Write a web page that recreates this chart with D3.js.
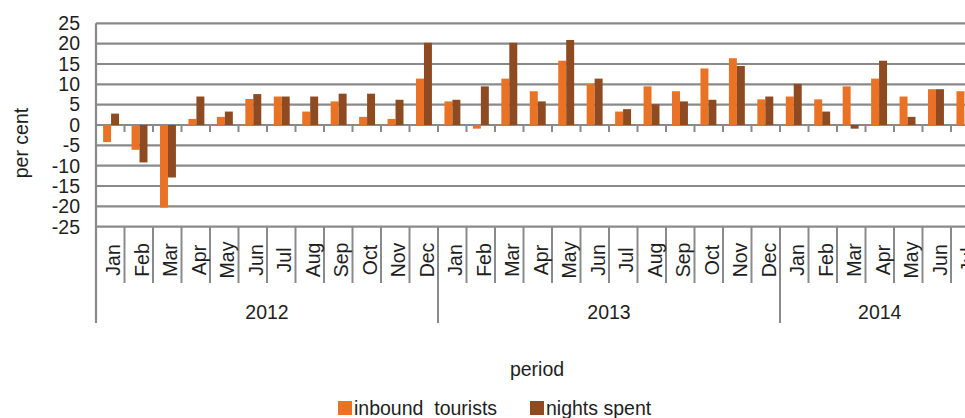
<!DOCTYPE html>
<html>
<head>
<meta charset="utf-8">
<script src="https://cdn.jsdelivr.net/npm/d3@7"></script>
<style>
    body { margin: 0; background: #fff; }
    svg { display: block; font-family: "Liberation Sans", Arial, sans-serif; }
    text { fill: #1e1e1e; }
</style>
</head>
<body>
<div class="chart"></div>
<script>
// month labels, year groups and the two series (per cent change)
var months = ["Jan", "Feb", "Mar", "Apr", "May", "Jun", "Jul", "Aug", "Sep", "Oct", "Nov", "Dec",
              "Jan", "Feb", "Mar", "Apr", "May", "Jun", "Jul", "Aug", "Sep", "Oct", "Nov", "Dec",
              "Jan", "Feb", "Mar", "Apr", "May", "Jun", "Jul"];
var years = ["2012", "2013", "2014"];
var yearLengths = [12, 12, 7];

var inbound = [-4.2, -6.1, -20.3, 1.5, 2.0, 6.4, 7.0, 3.3, 5.8, 2.0, 1.5, 11.4,
               5.8, -0.9, 11.4, 8.3, 15.8, 10.1, 3.3, 9.5, 8.3, 13.9, 16.4, 6.3,
               7.0, 6.3, 9.5, 11.4, 7.0, 8.8, 8.3];
var nights = [2.8, -9.2, -12.9, 7.0, 3.3, 7.6, 7.0, 7.0, 7.7, 7.7, 6.2, 20.2,
              6.2, 9.5, 20.2, 5.8, 20.9, 11.4, 3.9, 5.1, 5.8, 6.2, 14.5, 7.0,
              10.1, 3.3, -0.9, 15.8, 2.0, 8.8, null];

var yTicks = [25, 20, 15, 10, 5, 0, -5, -10, -15, -20, -25];
var seriesNames = ["inbound  tourists", "nights spent"];
var colors = ["#e97224", "#8e4a21"];

function chart() {
    var width = 965, height = 418;
    var left = 96, right = 979.5;
    var fontSize = "19.5px";

    var svg = d3.select(".chart").append("svg")
            .attr("width", width)
            .attr("height", height);

    var idx = d3.range(months.length);

    var xCat = d3.scaleBand()
                .domain(idx)
                .range([left, right]);

    var x0 = d3.scaleBand()
                .domain(idx)
                .range([left, right])
                .paddingInner(0.44)
                .paddingOuter(0.25);

    var x1 = d3.scaleBand()
                .domain([0, 1])
                .range([0, x0.bandwidth()]);

    var y = d3.scaleLinear()
                .domain([-25, 25])
                .range([226.7, 23.3]);

    // grid lines
    svg.append("g").selectAll("line")
        .data(yTicks)
        .enter().append("line")
            .attr("x1", left)
            .attr("x2", width)
            .attr("y1", function (d) { return y(d); })
            .attr("y2", function (d) { return y(d); })
            .attr("stroke", "#8a8a8a")
            .attr("stroke-width", 2.2);

    // y axis labels
    svg.append("g").selectAll("text")
        .data(yTicks)
        .enter().append("text")
            .attr("x", 80)
            .attr("y", function (d) { return y(d); })
            .attr("dy", "0.35em")
            .attr("text-anchor", "end")
            .style("font-size", fontSize)
            .text(function (d) { return d; });

    // bars
    var series = [inbound, nights];
    var groups = svg.append("g").selectAll("g")
        .data(series)
        .enter().append("g")
            .attr("fill", function (d, i) { return colors[i]; });

    groups.each(function (vals, s) {
        d3.select(this).selectAll("rect")
            .data(idx.filter(function (i) { return vals[i] != null; }))
            .enter().append("rect")
                .attr("x", function (i) { return x0(i) + x1(s); })
                .attr("width", x1.bandwidth())
                .attr("y", function (i) { return y(Math.max(0, vals[i])); })
                .attr("height", function (i) { return Math.abs(y(vals[i]) - y(0)); });
    });

    // ticks on the zero line
    svg.append("g").selectAll("line")
        .data(idx)
        .enter().append("line")
            .attr("x1", function (i) { return xCat(i); })
            .attr("x2", function (i) { return xCat(i); })
            .attr("y1", y(0))
            .attr("y2", y(0) + 7)
            .attr("stroke", "#8a8a8a")
            .attr("stroke-width", 2);

    // left axis line
    svg.append("line")
        .attr("x1", left).attr("x2", left)
        .attr("y1", y(25)).attr("y2", 323)
        .attr("stroke", "#8a8a8a")
        .attr("stroke-width", 2.2);

    // category dividers under the plot
    var yearStarts = [0];
    yearLengths.forEach(function (n, i) { yearStarts.push(yearStarts[i] + n); });

    svg.append("g").selectAll("line")
        .data(idx.slice(1))
        .enter().append("line")
            .attr("x1", function (i) { return xCat(i); })
            .attr("x2", function (i) { return xCat(i); })
            .attr("y1", y(-25))
            .attr("y2", function (i) { return yearStarts.indexOf(i) >= 0 ? 323 : 283; })
            .attr("stroke", "#8a8a8a")
            .attr("stroke-width", 2);

    // month labels
    svg.append("g").selectAll("text")
        .data(idx)
        .enter().append("text")
            .attr("transform", function (i) {
                return "translate(" + (xCat(i) + xCat.bandwidth() / 2) + ",260) rotate(-90)";
            })
            .attr("dy", "0.5em")
            .attr("text-anchor", "middle")
            .style("font-size", fontSize)
            .text(function (i) { return months[i]; });

    // year labels
    svg.append("g").selectAll("text")
        .data(years)
        .enter().append("text")
            .attr("x", function (d, i) {
                var a = xCat(yearStarts[i]);
                var b = xCat(yearStarts[i + 1] - 1) + xCat.bandwidth();
                return (a + b) / 2;
            })
            .attr("y", 312)
            .attr("dy", "0.35em")
            .attr("text-anchor", "middle")
            .style("font-size", fontSize)
            .text(function (d) { return d; });

    // axis titles
    svg.append("text")
        .attr("transform", "translate(21,143) rotate(-90)")
        .attr("dy", "0.35em")
        .attr("text-anchor", "middle")
        .style("font-size", fontSize)
        .text("per cent");

    svg.append("text")
        .attr("x", 537)
        .attr("y", 369)
        .attr("dy", "0.35em")
        .attr("text-anchor", "middle")
        .style("font-size", fontSize)
        .text("period");

    // legend
    var legendX = [338, 530];
    var legend = svg.append("g").selectAll("g")
        .data(seriesNames)
        .enter().append("g")
            .attr("transform", function (d, i) { return "translate(" + legendX[i] + ",401)"; });

    legend.append("rect")
        .attr("width", 14)
        .attr("height", 14)
        .attr("fill", function (d, i) { return colors[i]; });

    legend.append("text")
        .attr("x", 16)
        .attr("y", 7)
        .attr("dy", "0.35em")
        .style("font-size", fontSize)
        .style("white-space", "pre")
        .text(function (d) { return d; });
}

chart();
</script>
</body>
</html>
